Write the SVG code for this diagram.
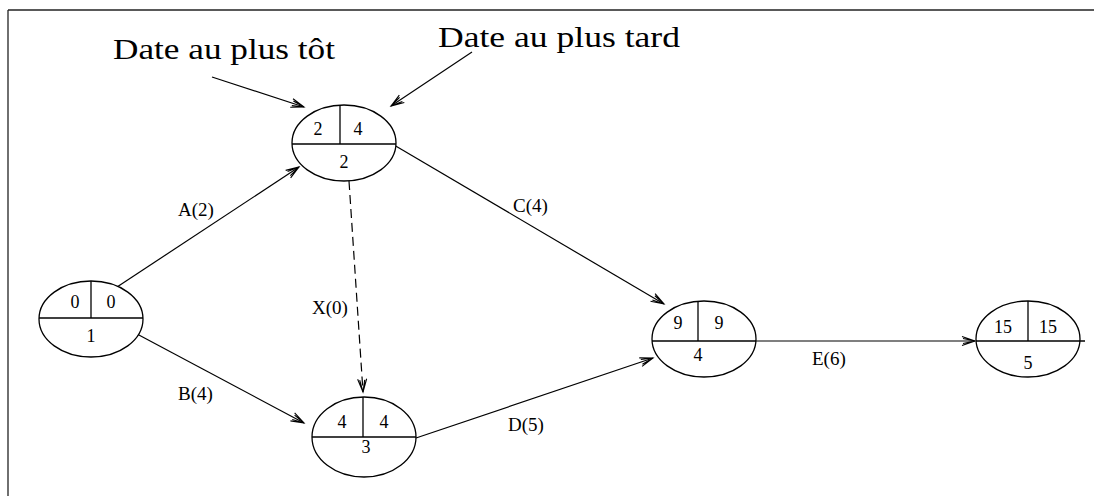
<svg xmlns="http://www.w3.org/2000/svg" width="1094" height="496" viewBox="0 0 1094 496">
<style>
.frame{stroke:#222;stroke-width:1.3;fill:none}
.node ellipse{fill:#fff;stroke:#000;stroke-width:1.3}
.node line{stroke:#000;stroke-width:1.3}
.num{font-family:"Liberation Serif",serif;font-size:18px;fill:#000;text-anchor:middle}
.lbl{font-family:"Liberation Serif",serif;font-size:19px;fill:#000}
.ann{font-family:"Liberation Serif",serif;font-size:30px;font-weight:normal;fill:#000}
.edge{stroke:#000;stroke-width:1.2;fill:none;marker-end:url(#arr)}
.dash{stroke-dasharray:9 5}
</style>
<defs>
<marker id="arr" markerUnits="userSpaceOnUse" viewBox="-14 -6 16 12" refX="0" refY="0" markerWidth="16" markerHeight="12" orient="auto">
<path d="M-13,-4.5 L0,0 L-13,4.5 M-12,-2.5 L0,0 L-12,2.5" fill="none" stroke="#000" stroke-width="1.1"/>
</marker>
</defs>
<g id="frame">
<line class="frame" x1="8" y1="10" x2="1094" y2="10"/>
<line class="frame" x1="8" y1="10" x2="8" y2="496"/>
</g>
<g id="annotations">
<text class="ann" font-family="'Liberation Serif', serif" x="113" y="59" textLength="222" lengthAdjust="spacingAndGlyphs">Date au plus tôt</text>
<text class="ann" font-family="'Liberation Serif', serif" x="438" y="47" textLength="242" lengthAdjust="spacingAndGlyphs">Date au plus tard</text>
</g>
<g id="connectors">
<line class="edge" x1="212" y1="77" x2="304" y2="107"/>
<line class="edge" x1="472" y1="52" x2="391" y2="106"/>
<line class="edge" x1="117" y1="287" x2="299" y2="167"/>
<line class="edge" x1="137" y1="334" x2="304" y2="423"/>
<line class="edge dash" x1="349" y1="181" x2="363" y2="392"/>
<line class="edge" x1="394" y1="145" x2="664" y2="304"/>
<line class="edge" x1="416" y1="438" x2="653" y2="358"/>
<line class="edge" x1="756" y1="341" x2="975" y2="341"/>
<text class="lbl" x="178" y="216">A(2)</text>
<text class="lbl" x="178" y="400">B(4)</text>
<text class="lbl" x="312" y="314">X(0)</text>
<text class="lbl" x="513" y="212">C(4)</text>
<text class="lbl" x="508" y="431">D(5)</text>
<text class="lbl" x="812" y="365">E(6)</text>
</g>
<g id="node1" class="node">
<ellipse cx="91" cy="319" rx="52" ry="38"/>
<line x1="39" y1="318" x2="143" y2="318"/>
<line x1="91" y1="281" x2="91" y2="318"/>
<text class="num" x="75" y="308">0</text>
<text class="num" x="111" y="308">0</text>
<text class="num" x="91" y="342">1</text>
</g>
<g id="node2" class="node">
<ellipse cx="344" cy="143" rx="52" ry="38"/>
<line x1="292" y1="144" x2="396" y2="144"/>
<line x1="340" y1="105" x2="340" y2="144"/>
<text class="num" x="318" y="135">2</text>
<text class="num" x="358" y="135">4</text>
<text class="num" x="344" y="168">2</text>
</g>
<g id="node3" class="node">
<ellipse cx="364" cy="437" rx="52" ry="40"/>
<line x1="312" y1="437" x2="416" y2="437"/>
<line x1="363" y1="397" x2="363" y2="437"/>
<text class="num" x="342" y="428">4</text>
<text class="num" x="384" y="428">4</text>
<text class="num" x="366" y="453">3</text>
</g>
<g id="node4" class="node">
<ellipse cx="704" cy="339" rx="52" ry="38"/>
<line x1="652" y1="341" x2="756" y2="341"/>
<line x1="698" y1="301" x2="698" y2="341"/>
<text class="num" x="678" y="329">9</text>
<text class="num" x="719" y="329">9</text>
<text class="num" x="698" y="361">4</text>
</g>
<g id="node5" class="node">
<ellipse cx="1028" cy="339" rx="52" ry="38"/>
<line x1="976" y1="341" x2="1085" y2="341"/>
<line x1="1028" y1="301" x2="1028" y2="341"/>
<text class="num" x="1003" y="333">15</text>
<text class="num" x="1048" y="333">15</text>
<text class="num" x="1028" y="369">5</text>
</g>
</svg>
